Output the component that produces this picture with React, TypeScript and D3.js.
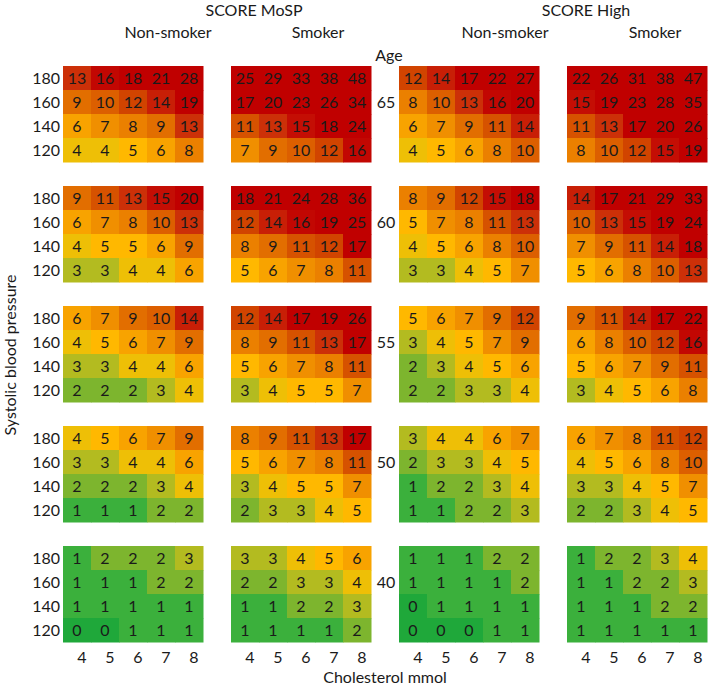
import React from "react";
import * as d3 from "d3";

const ages = [65, 60, 55, 50, 40];
const sbp = [180, 160, 140, 120];
const chol = [4, 5, 6, 7, 8];
const groups = ["SCORE MoSP", "SCORE High"];
const smokerLabels = ["Non-smoker", "Smoker", "Non-smoker", "Smoker"];

const mospNonSmoker = [
  [[13, 16, 18, 21, 28], [9, 10, 12, 14, 19], [6, 7, 8, 9, 13], [4, 4, 5, 6, 8]],
  [[9, 11, 13, 15, 20], [6, 7, 8, 10, 13], [4, 5, 5, 6, 9], [3, 3, 4, 4, 6]],
  [[6, 7, 9, 10, 14], [4, 5, 6, 7, 9], [3, 3, 4, 4, 6], [2, 2, 2, 3, 4]],
  [[4, 5, 6, 7, 9], [3, 3, 4, 4, 6], [2, 2, 2, 3, 4], [1, 1, 1, 2, 2]],
  [[1, 2, 2, 2, 3], [1, 1, 1, 2, 2], [1, 1, 1, 1, 1], [0, 0, 1, 1, 1]],
];
const mospSmoker = [
  [[25, 29, 33, 38, 48], [17, 20, 23, 26, 34], [11, 13, 15, 18, 24], [7, 9, 10, 12, 16]],
  [[18, 21, 24, 28, 36], [12, 14, 16, 19, 25], [8, 9, 11, 12, 17], [5, 6, 7, 8, 11]],
  [[12, 14, 17, 19, 26], [8, 9, 11, 13, 17], [5, 6, 7, 8, 11], [3, 4, 5, 5, 7]],
  [[8, 9, 11, 13, 17], [5, 6, 7, 8, 11], [3, 4, 5, 5, 7], [2, 3, 3, 4, 5]],
  [[3, 3, 4, 5, 6], [2, 2, 3, 3, 4], [1, 1, 2, 2, 3], [1, 1, 1, 1, 2]],
];
const highNonSmoker = [
  [[12, 14, 17, 22, 27], [8, 10, 13, 16, 20], [6, 7, 9, 11, 14], [4, 5, 6, 8, 10]],
  [[8, 9, 12, 15, 18], [5, 7, 8, 11, 13], [4, 5, 6, 8, 10], [3, 3, 4, 5, 7]],
  [[5, 6, 7, 9, 12], [3, 4, 5, 7, 9], [2, 3, 4, 5, 6], [2, 2, 3, 3, 4]],
  [[3, 4, 4, 6, 7], [2, 3, 3, 4, 5], [1, 2, 2, 3, 4], [1, 1, 2, 2, 3]],
  [[1, 1, 1, 2, 2], [1, 1, 1, 1, 2], [0, 1, 1, 1, 1], [0, 0, 0, 1, 1]],
];
const highSmoker = [
  [[22, 26, 31, 38, 47], [15, 19, 23, 28, 35], [11, 13, 17, 20, 26], [8, 10, 12, 15, 19]],
  [[14, 17, 21, 29, 33], [10, 13, 15, 19, 24], [7, 9, 11, 14, 18], [5, 6, 8, 10, 13]],
  [[9, 11, 14, 17, 22], [6, 8, 10, 12, 16], [5, 6, 7, 9, 11], [3, 4, 5, 6, 8]],
  [[6, 7, 8, 11, 12], [4, 5, 6, 8, 10], [3, 3, 4, 5, 7], [2, 2, 3, 4, 5]],
  [[1, 2, 2, 3, 4], [1, 1, 2, 2, 3], [1, 1, 1, 2, 2], [1, 1, 1, 1, 1]],
];

const panels = [mospNonSmoker, mospSmoker, highNonSmoker, highSmoker];

const colorStops = [0, 1, 2, 3, 4, 5, 6, 7, 8, 9, 10, 11, 12, 13, 15, 17];
const colorRange = [
  "#1fa83a", "#3bb03c", "#7db52e", "#b3bb20", "#eebf06", "#ffb800", "#f8a300",
  "#f08f00", "#eb8000", "#e26e00", "#dc5f00", "#d65200", "#d14400", "#cc3008",
  "#c40e04", "#c00000",
];

const W = 709;
const H = 686;
const FONT = "Lato, 'Open Sans', sans-serif";
const TXT = "#1a1a1a";

export default function App() {
  const color = d3
    .scaleLinear<string>()
    .domain(colorStops)
    .range(colorRange)
    .interpolate(d3.interpolateRgb)
    .clamp(true);

  const panelX = d3.scaleBand<number>().domain([0, 1, 2, 3]).range([63, 707]).paddingInner(28 / 168);
  const ageY = d3.scaleBand<number>().domain(ages).range([66, 642]).paddingInner(0.2);

  const fs = 16;

  return (
    <svg
      width={W}
      height={H}
      style={{ position: "absolute", left: 0, top: 0, background: "#fff" }}
      fontFamily={FONT}
    >
      <rect x={0} y={0} width={W} height={H} fill="#fff" />
      <text x={254} y={16} textAnchor="middle" fontSize={fs} fill={TXT}>
        {groups[0]}
      </text>
      <text x={586} y={16} textAnchor="middle" fontSize={fs} fill={TXT}>
        {groups[1]}
      </text>
      {[168, 318, 505, 655].map((cx, i) => (
        <text key={i} x={cx} y={38} textAnchor="middle" fontSize={fs} fill={TXT}>
          {smokerLabels[i]}
        </text>
      ))}
      <text x={389} y={61} textAnchor="middle" fontSize={fs} fill={TXT}>
        Age
      </text>

      {panels.map((panel, pi) => {
        const x0 = panelX(pi)!;
        const xs = d3.scaleBand<number>().domain(chol).range([x0, x0 + panelX.bandwidth()]);
        return (
          <g key={pi}>
            {ages.map((age, ai) => {
              const y0 = ageY(age)!;
              const ys = d3.scaleBand<number>().domain(sbp).range([y0, y0 + ageY.bandwidth()]);
              return (
                <g key={age}>
                  {sbp.map((s, ri) =>
                    chol.map((c, ci) => {
                      const v = panel[ai][ri][ci];
                      return (
                        <g key={`${s}-${c}`}>
                          <rect
                            x={xs(c)!}
                            y={ys(s)!}
                            width={xs.bandwidth() + 0.5}
                            height={ys.bandwidth() + 0.5}
                            fill={color(v)}
                          />
                          <text
                            x={xs(c)! + xs.bandwidth() / 2}
                            y={ys(s)! + ys.bandwidth() / 2}
                            dy="0.36em"
                            textAnchor="middle"
                            fontSize={fs}
                            fill={TXT}
                          >
                            {v}
                          </text>
                        </g>
                      );
                    })
                  )}
                  {pi === 0 &&
                    sbp.map((s) => (
                      <text
                        key={s}
                        x={60}
                        y={ys(s)! + ys.bandwidth() / 2}
                        dy="0.36em"
                        textAnchor="end"
                        fontSize={fs}
                        fill={TXT}
                      >
                        {s}
                      </text>
                    ))}
                  {pi === 1 && (
                    <text
                      x={386}
                      y={ys(160)! + ys.bandwidth() / 2}
                      dy="0.36em"
                      textAnchor="middle"
                      fontSize={fs}
                      fill={TXT}
                    >
                      {age}
                    </text>
                  )}
                </g>
              );
            })}
            {chol.map((c) => (
              <text
                key={c}
                x={xs(c)! + xs.bandwidth() / 2 + 5}
                y={657}
                dy="0.36em"
                textAnchor="middle"
                fontSize={fs}
                fill={TXT}
              >
                {c}
              </text>
            ))}
          </g>
        );
      })}

      <text x={385} y={677} dy="0.36em" textAnchor="middle" fontSize={fs} fill={TXT}>
        Cholesterol mmol
      </text>
      <text
        transform={`translate(10,355) rotate(-90)`}
        dy="0.36em"
        textAnchor="middle"
        fontSize={fs}
        fill={TXT}
      >
        Systolic blood pressure
      </text>
    </svg>
  );
}
